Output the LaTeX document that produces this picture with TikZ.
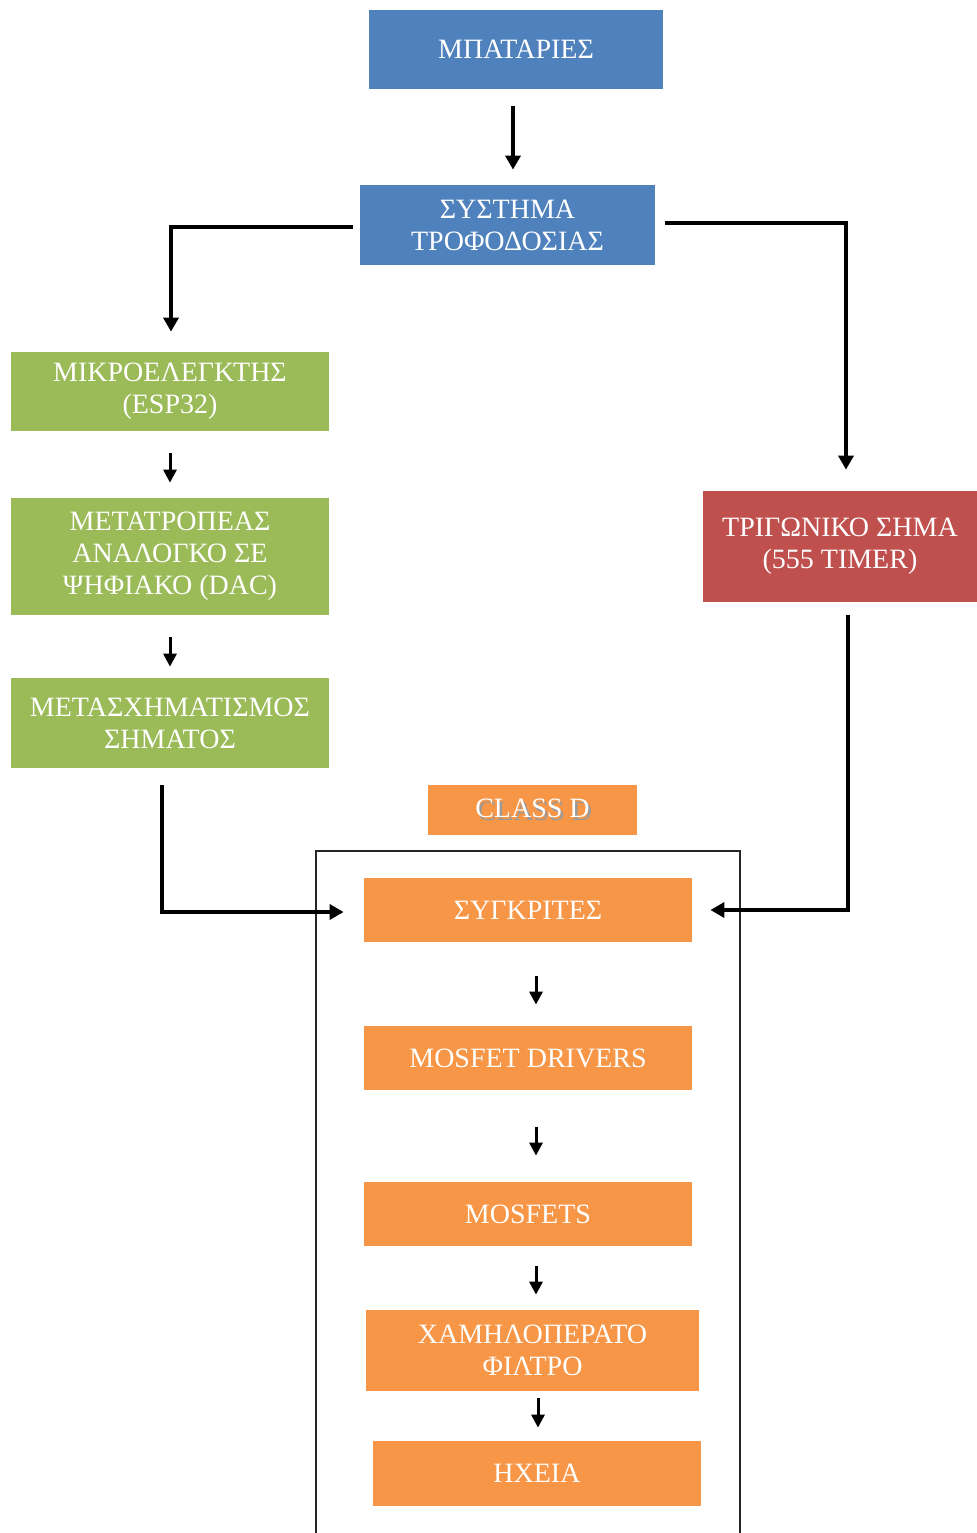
\documentclass[tikz,border=0pt]{standalone}
\usepackage{fontspec}
\setmainfont{Liberation Serif}
\usetikzlibrary{arrows.meta}
\definecolor{cblue}{HTML}{4F81BD}
\definecolor{cgreen}{HTML}{9BBB59}
\definecolor{cred}{HTML}{C0504D}
\definecolor{corange}{HTML}{F79646}
\newcommand{\shtext}[1]{\rlap{\kern1.2pt\raisebox{-1.2pt}{\textcolor{black!40}{#1}}}#1}
\tikzset{
  boxnode/.style={inner sep=0pt, align=center, text=white,
    font=\fontsize{14}{16}\selectfont},
  bluebox/.style={boxnode, fill=cblue},
  greenbox/.style={boxnode, fill=cgreen},
  redbox/.style={boxnode, fill=cred},
  orangebox/.style={boxnode, fill=corange},
  bigarrow/.style={line width=2pt, -{Triangle[width=7.5pt,length=7pt]}},
  smallarrow/.style={line width=1.5pt, -{Triangle[width=6.5pt,length=6.5pt]}},
  framebox/.style={line width=0.8pt, draw=black!85}
}
\begin{document}
\begin{tikzpicture}[x=0.5pt,y=-0.5pt]
\useasboundingbox (0,0) rectangle (977,1533);
% nodes
\node[bluebox, minimum width=147pt, minimum height=39.5pt] (bat) at (516,49.5) {ΜΠΑΤΑΡΙΕΣ};
\node[bluebox, minimum width=147.5pt, minimum height=40pt] (sup) at (507.5,225) {ΣΥΣΤΗΜΑ\\ΤΡΟΦΟΔΟΣΙΑΣ};
\node[greenbox, minimum width=159pt, minimum height=39.5pt] (mcu) at (170,391.5) {ΜΙΚΡΟΕΛΕΓΚΤΗΣ\\(ESP32)};
\node[greenbox, minimum width=159pt, minimum height=58.5pt] (dac) at (170,556.5) {ΜΕΤΑΤΡΟΠΕΑΣ\\ΑΝΑΛΟΓΚΟ ΣΕ\\ΨΗΦΙΑΚΟ (DAC)};
\node[greenbox, minimum width=159pt, minimum height=45pt] (shp) at (170,723) {ΜΕΤΑΣΧΗΜΑΤΙΣΜΟΣ\\ΣΗΜΑΤΟΣ};
\node[redbox, minimum width=137pt, minimum height=55.5pt] (tri) at (840,546.5) {ΤΡΙΓΩΝΙΚΟ ΣΗΜΑ\\(555 TIMER)};
\node[orangebox, minimum width=104.5pt, minimum height=25pt] (cls) at (532.5,810) {\shtext{CLASS D}};
\node[orangebox, minimum width=164pt, minimum height=32pt] (cmp) at (528,910) {ΣΥΓΚΡΙΤΕΣ};
\node[orangebox, minimum width=164pt, minimum height=32pt] (drv) at (528,1058) {MOSFET DRIVERS};
\node[orangebox, minimum width=164pt, minimum height=32pt] (mos) at (528,1214) {MOSFETS};
\node[orangebox, minimum width=166.5pt, minimum height=40.5pt] (lpf) at (532.5,1350.5) {ΧΑΜΗΛΟΠΕΡΑΤΟ\\ΦΙΛΤΡΟ};
\node[orangebox, minimum width=164pt, minimum height=32.5pt] (spk) at (537,1473.5) {ΗΧΕΙΑ};
% frame of class D block (bottom edge outside the picture)
\draw[framebox] (316,1545) -- (316,851) -- (740,851) -- (740,1545);
% helper coordinates for connector columns
\coordinate (xa) at (513,0);
\coordinate (xl) at (171,0);
\coordinate (xr) at (846,0);
\coordinate (xlb) at (162,0);
\coordinate (xrb) at (848,0);
\coordinate (xg) at (170,0);
\coordinate (xo) at (536,0);
\coordinate (xo2) at (538,0);
% connectors
\draw[bigarrow, shorten <=8.5pt, shorten >=7.5pt] (bat.south -| xa) -- (sup.north -| xa);
\draw[bigarrow, shorten <=3.5pt, shorten >=10pt] ([yshift=-1pt]sup.west) -| (mcu.north -| xl);
\draw[bigarrow, shorten <=5pt, shorten >=10.5pt] ([yshift=1pt]sup.east) -| (tri.north -| xr);
\draw[smallarrow, shorten <=11pt, shorten >=7.5pt] (mcu.south -| xg) -- (dac.north -| xg);
\draw[smallarrow, shorten <=11pt, shorten >=5.5pt] (dac.south -| xg) -- (shp.north -| xg);
\draw[bigarrow, shorten <=8.5pt, shorten >=10pt] (shp.south -| xlb) |- ([yshift=-1pt]cmp.west);
\draw[bigarrow, shorten <=6.5pt, shorten >=9pt] (tri.south -| xrb) |- (cmp.east);
\draw[smallarrow, shorten <=17pt, shorten >=10.5pt] (cmp.south -| xo) -- (drv.north -| xo);
\draw[smallarrow, shorten <=18.5pt, shorten >=13pt] (drv.south -| xo) -- (mos.north -| xo);
\draw[smallarrow, shorten <=10pt, shorten >=7.5pt] (mos.south -| xo) -- (lpf.north -| xo);
\draw[smallarrow, shorten <=3.5pt, shorten >=6.5pt] (lpf.south -| xo2) -- (spk.north -| xo2);
\end{tikzpicture}
\end{document}
